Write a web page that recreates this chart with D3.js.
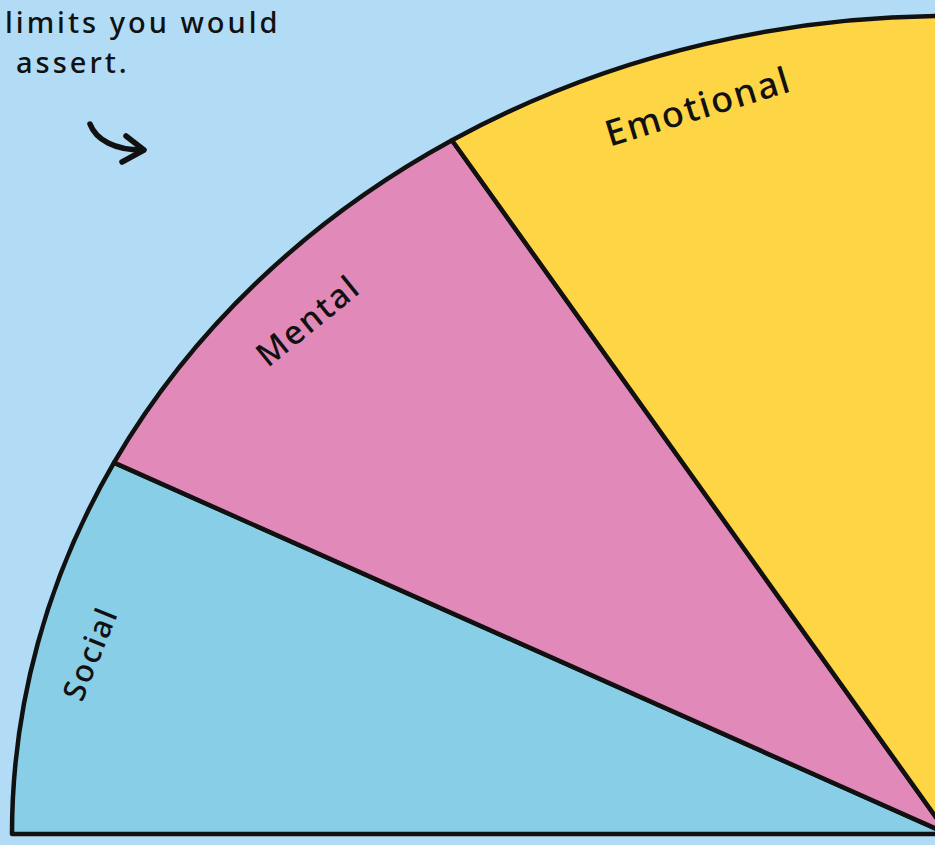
<!DOCTYPE html>
<html>
<head>
<meta charset="utf-8">
<script src="https://cdn.jsdelivr.net/npm/d3@7"></script>
<style>
  html, body { margin: 0; padding: 0; background: #b2dcf5; overflow: hidden; }
  svg { display: block; }
  text { font-family: "Noto Sans", sans-serif; fill: #111; }
</style>
</head>
<body>
<svg width="935" height="845"></svg>
<script>
// slice names and sizes (degrees of the wedge)
const categories = ["Social", "Mental", "Emotional"];
const values = [27, 31, 34];
const colors = ["#87cee6", "#e189b8", "#fed544"];
const noteLines = ["limits you would", "assert."];

const svg = d3.select("svg"),
  width = +svg.attr("width"),
  height = +svg.attr("height");

// centre of the pie sits at the bottom right, the shape is a bit squashed
const cx = 948, cy = 834, rx = 936, ry = 818, R = 1000;

const total = d3.sum(values);
const pie = d3.pie()
  .sort(null)
  .value(d => d.value)
  .startAngle(-Math.PI / 2)
  .endAngle(-Math.PI / 2 + total * Math.PI / 180);

const arcs = pie(categories.map((c, i) => ({ name: c, value: values[i], color: colors[i] })));

const arc = d3.arc().innerRadius(0).outerRadius(R);

const g = svg.append("g")
  .attr("transform", `translate(${cx},${cy}) scale(${rx / R},${ry / R})`);

g.selectAll("path")
  .data(arcs)
  .enter().append("path")
  .attr("d", arc)
  .attr("fill", d => d.data.color)
  .attr("stroke", "#111")
  .attr("stroke-width", 4.5)
  .attr("stroke-linejoin", "round")
  .attr("vector-effect", "non-scaling-stroke");

// labels near the rim, turned roughly along the edge
const labelR = [0.94, 0.925, 0.925];
const labelTurn = [-68, -39, -17];
const labelSize = [31, 33, 36];

svg.selectAll("text.label")
  .data(arcs)
  .enter().append("text")
  .attr("class", "label")
  .attr("text-anchor", "middle")
  .attr("dominant-baseline", "middle")
  .attr("font-size", (d, i) => labelSize[i])
  .attr("font-weight", 500)
  .attr("letter-spacing", 2)
  .attr("transform", (d, i) => {
    const a = (d.startAngle + d.endAngle) / 2 - (i === 2 ? 0.03 : 0);
    const x = cx + rx * labelR[i] * Math.sin(a);
    const y = cy - ry * labelR[i] * Math.cos(a);
    return `translate(${x},${y}) rotate(${labelTurn[i]})`;
  })
  .text(d => d.data.name);

// note text at the top left
svg.selectAll("text.note")
  .data(noteLines)
  .enter().append("text")
  .attr("class", "note")
  .attr("x", (d, i) => i === 0 ? 5 : 16)
  .attr("y", (d, i) => 33 + i * 40)
  .attr("font-size", 29)
  .attr("font-weight", 500)
  .attr("letter-spacing", 3)
  .text(d => d);

// small curved arrow pointing at the chart
svg.append("path")
  .attr("d", "M90,124 C96,140 115,150 142,150")
  .attr("fill", "none")
  .attr("stroke", "#111")
  .attr("stroke-width", 5.5)
  .attr("stroke-linecap", "round");
svg.append("path")
  .attr("d", "M126,136 L144,150 L122,162")
  .attr("fill", "none")
  .attr("stroke", "#111")
  .attr("stroke-width", 5.5)
  .attr("stroke-linecap", "round")
  .attr("stroke-linejoin", "round");
</script>
</body>
</html>
